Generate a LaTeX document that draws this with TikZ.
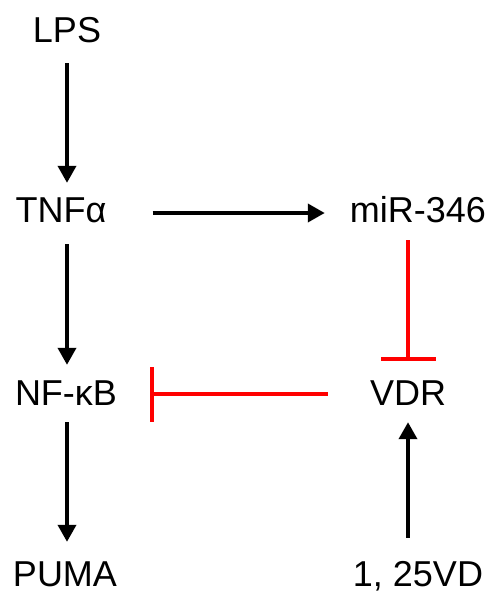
\documentclass[tikz,border=0pt]{standalone}
\usepackage{fontspec}
\setmainfont{Liberation Sans}
\usetikzlibrary{arrows.meta}

\begin{document}
\begin{tikzpicture}[
    x=1pt, y=-1pt,
    gene/.style={
        inner sep=0pt, anchor=base,
        text height=26pt, text depth=0pt,
        font=\fontsize{36}{40}\selectfont
    },
    act/.style={line width=3.8pt, -{Triangle[length=17pt, width=18pt]}},
    inhib/.style={line width=3.8pt, red, -{Bar[width=55pt]}}
]
\useasboundingbox (0,0) rectangle (492,592);

\node (lps)  [gene] at (67,42)   {LPS};
\node (tnf)  [gene] at (61,222)  {TNFα};
\node (mir)  [gene] at (418,222) {miR-346};
\node (nfkb) [gene] at (66,405)  {NF-κB};
\node (vdr)  [gene] at (408,405) {VDR};
\node (puma) [gene] at (65,586)  {PUMA};
\node (vd)   [gene] at (418,586) {1, 25VD};

% left column
\draw[act, shorten <=21pt, shorten >=13pt] (lps.south) -- (lps.south |- tnf.north);
\draw[act, shorten <=22pt, shorten >=14pt] (lps.south |- tnf.south) -- (lps.south |- nfkb.north);
\draw[act, shorten <=17pt, shorten >=18pt] (lps.south |- nfkb.south) -- (lps.south |- puma.north);

% TNFa to miR-346
\draw[act] ([xshift=46pt, yshift=-4pt]tnf.east) -- ([xshift=-25pt, yshift=-4pt]mir.west);

% inhibitions
\draw[inhib, shorten <=18pt, shorten >=18pt] (vdr.north |- mir.south) -- (vdr.north);
\draw[inhib, shorten <=42pt, shorten >=33pt] ([yshift=-2pt]vdr.west) -- ([yshift=-2pt]nfkb.east);

% 1,25VD to VDR
\draw[act, shorten <=22pt, shorten >=17pt] (vdr.south |- vd.north) -- (vdr.south);

\end{tikzpicture}
\end{document}
